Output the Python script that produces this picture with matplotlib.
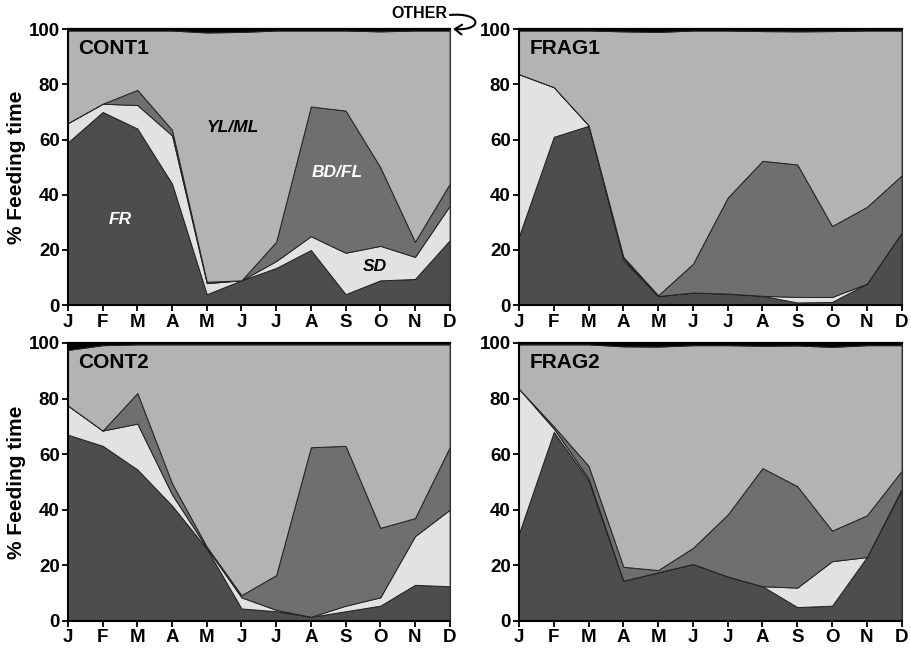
import matplotlib
matplotlib.use("Agg")
import matplotlib.pyplot as plt
from matplotlib.patches import FancyArrowPatch
from matplotlib.path import Path

plt.rcParams['font.family'] = ['Liberation Sans', 'DejaVu Sans']

months = ["J", "F", "M", "A", "M", "J", "J", "A", "S", "O", "N", "D"]
layer_names = ["FR", "SD", "BD/FL", "YL/ML", "OTHER"]
layer_colors = ["#4d4d4d", "#e2e2e2", "#6f6f6f", "#b3b3b3", "#000000"]

# % feeding time per month, one list per food category
cont1_fr = [59, 70, 64, 44, 4, 9, 13.5, 20, 4, 9, 9.5, 23.5]
cont1_sd = [7, 3, 8.5, 17.5, 4, 0, 2.5, 5, 15, 12.5, 8, 12.5]
cont1_bd = [0, 0, 5.5, 2, 0.5, 0, 7, 47, 51.5, 28.5, 5.5, 8]
cont1_yl = [33.5, 26.5, 21.5, 36, 90.3, 90, 76.5, 27.5, 29, 49.2, 76.5, 55.5]
cont1_other = [0.5, 0.5, 0.5, 0.5, 1.2, 1.0, 0.5, 0.5, 0.5, 0.8, 0.5, 0.5]

frag1_fr = [25, 61, 65, 16.3, 3.3, 4.6, 4.2, 3.4, 1, 1.2, 7.8, 26.3]
frag1_sd = [58.7, 18, 0.2, 0.7, 0, 0, 0, 0, 2, 1.8, 0, 0]
frag1_bd = [0, 0, 0, 0.5, 0.3, 10.4, 34.8, 48.9, 48, 25.7, 27.8, 20.7]
frag1_yl = [15.8, 20.5, 34.3, 81.7, 95.4, 84.5, 60.5, 47, 48.2, 70.6, 63.9, 52.5]
frag1_other = [0.5, 0.5, 0.5, 0.8, 1.0, 0.5, 0.5, 0.7, 0.8, 0.7, 0.5, 0.5]

cont2_fr = [67, 63, 54.5, 41.5, 26, 4.5, 3.5, 1.5, 3.5, 5.5, 13, 12.5]
cont2_sd = [10.5, 5.5, 16.5, 4, 0.3, 4, 0.5, 0, 2, 3, 17.5, 27.5]
cont2_bd = [0, 0, 11, 4, 0.4, 0.8, 12.5, 61, 57.5, 25, 6.5, 22.5]
cont2_yl = [20, 30.7, 17.5, 50, 72.8, 90.2, 83, 37, 36.5, 66, 62.5, 37]
cont2_other = [2.5, 0.8, 0.5, 0.5, 0.5, 0.5, 0.5, 0.5, 0.5, 0.5, 0.5, 0.5]

frag2_fr = [31.5, 68, 50.5, 14.5, 17.5, 20.5, 16, 12.5, 5, 5.5, 23, 47]
frag2_sd = [52, 1.2, 0.8, 0, 0, 0, 0, 0, 7, 16, 0, 0.5]
frag2_bd = [0, 0.8, 4.5, 5, 0.8, 5.8, 22.3, 42.5, 36.5, 11, 15, 6.5]
frag2_yl = [16, 29.5, 43.7, 79.3, 80.4, 72.9, 60.9, 44, 50.6, 66.1, 61.2, 45.2]
frag2_other = [0.5, 0.5, 0.5, 1.2, 1.3, 0.8, 0.8, 1.0, 0.9, 1.4, 0.8, 0.8]

panels = [
    ("CONT1", [cont1_fr, cont1_sd, cont1_bd, cont1_yl, cont1_other]),
    ("FRAG1", [frag1_fr, frag1_sd, frag1_bd, frag1_yl, frag1_other]),
    ("CONT2", [cont2_fr, cont2_sd, cont2_bd, cont2_yl, cont2_other]),
    ("FRAG2", [frag2_fr, frag2_sd, frag2_bd, frag2_yl, frag2_other]),
]

W, H = 911, 648
fig = plt.figure(figsize=(W / 100, H / 100), dpi=100)
boxes = [
    [0.0746, 0.529, 0.419, 0.426],
    [0.5697, 0.529, 0.420, 0.426],
    [0.0746, 0.0417, 0.419, 0.429],
    [0.5697, 0.0417, 0.420, 0.429],
]

x = list(range(len(months)))
axes = []
for i, (name, layers) in enumerate(panels):
    ax = fig.add_axes(boxes[i])
    ax.stackplot(x, *layers, colors=layer_colors, edgecolor="#222222", linewidth=0.7)
    ax.set_xlim(0, 11)
    ax.set_ylim(0, 100)
    ax.set_xticks(x)
    ax.set_xticklabels(months, fontsize=13.5, fontweight="bold")
    ax.set_yticks([0, 20, 40, 60, 80, 100])
    ax.set_yticklabels(["0", "20", "40", "60", "80", "100"], fontsize=13.5, fontweight="bold")
    ax.tick_params(direction="out", length=4, width=1.3, pad=2)
    for s in ["left", "bottom"]:
        ax.spines[s].set_linewidth(1.5)
    ax.spines["top"].set_linewidth(1.6)
    ax.spines["right"].set_linewidth(0.8)
    ax.spines["right"].set_color("#333333")
    ax.text(0.3, 93, name, fontsize=15, fontweight="bold", va="center", ha="left")
    if i % 2 == 0:
        ax.set_ylabel("% Feeding time", fontsize=15, fontweight="bold", labelpad=2)
    axes.append(ax)

# category labels in the first panel
ax0 = axes[0]
ax0.text(1.5, 31, "FR", color="white", fontsize=12.5, fontweight="bold", style="italic", ha="center", va="center")
ax0.text(4.75, 64.5, "YL/ML", color="black", fontsize=12.5, fontweight="bold", style="italic", ha="center", va="center")
ax0.text(7.75, 48, "BD/FL", color="white", fontsize=12.5, fontweight="bold", style="italic", ha="center", va="center")
ax0.text(8.85, 14, "SD", color="black", fontsize=12.5, fontweight="bold", style="italic", ha="center", va="center")

# OTHER label with curled arrow pointing back to the top band
fig.text(419 / W, 1 - 14 / H, "OTHER", fontsize=11.5, fontweight="bold", ha="center", va="center")


def fp(px, py):
    return (px / W, 1 - py / H)


curl = Path([fp(450, 15), fp(482, 12), fp(484, 31), fp(453, 29)],
            [Path.MOVETO, Path.CURVE4, Path.CURVE4, Path.CURVE4])
arrow = FancyArrowPatch(path=curl, transform=fig.transFigure,
                        arrowstyle="->,head_length=5,head_width=3.5", linewidth=1.5, color="black")
fig.patches.append(arrow)

fig.savefig("out.png", dpi=100)
